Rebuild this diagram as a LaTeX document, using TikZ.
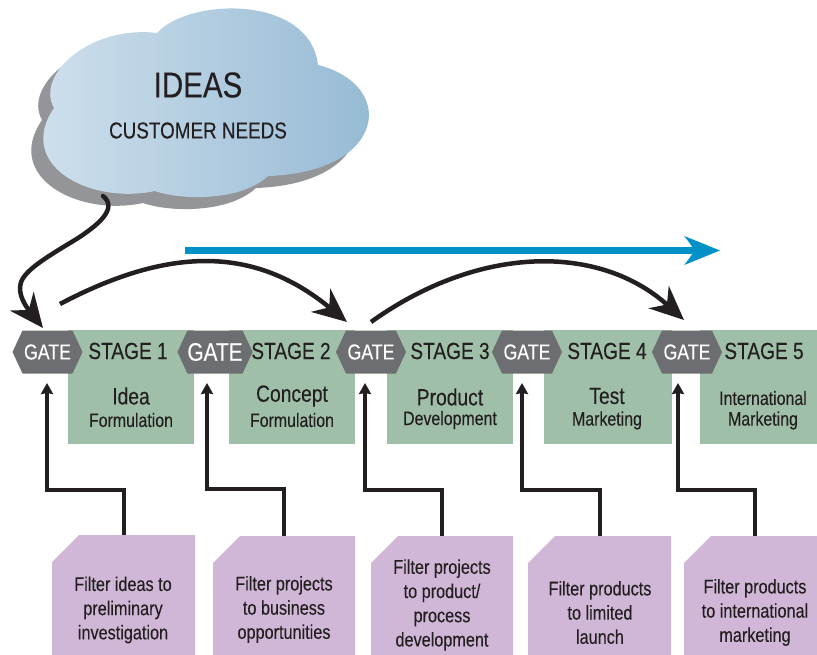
\documentclass[tikz,border=0pt]{standalone}
\usepackage{fontspec}
\setmainfont[FakeStretch=0.82,FakeBold=0.2]{Liberation Sans}
\usetikzlibrary{arrows.meta,shapes.symbols,calc}
\definecolor{ink}{HTML}{231F20}
\definecolor{gategray}{HTML}{6D6E71}
\definecolor{stagegreen}{HTML}{9FBFA9}
\definecolor{notepurple}{HTML}{D1B7D7}
\definecolor{arrowblue}{HTML}{0091C8}
\definecolor{cloudshadow}{HTML}{939598}
\definecolor{cloudL}{HTML}{D2E2EE}
\definecolor{cloudR}{HTML}{93B8D3}
\tikzset{
  gate/.style={signal,signal to=west and east,signal pointer angle=130,fill=gategray,text=white,
    minimum width=70pt,minimum height=43pt,inner sep=0pt,font=\fontsize{21.6}{24}\selectfont},
  stagebox/.style={fill=stagegreen,inner sep=0pt,minimum height=114pt,anchor=north west},
  stagelabel/.style={text=ink,inner sep=0pt,font=\fontsize{23.3}{24}\selectfont},
  bigword/.style={text=ink,inner sep=0pt,font=\fontsize{23.5}{24}\selectfont},
  smallword/.style={text=ink,inner sep=0pt,font=\fontsize{19.4}{24}\selectfont},
  notetext/.style={text=ink,inner sep=0pt,align=center,font=\fontsize{19.8}{24.2}\selectfont},
  filterarrow/.style={draw=ink,line width=4pt,-{Stealth[length=11pt,width=12pt,inset=1pt]}},
  flowarrow/.style={draw=ink,line width=4.5pt,-{Stealth[length=34pt,width=30pt,inset=11pt]}},
  notepoly/.style={fill=notepurple},
}
\newcommand{\notepath}[4]{\path[notepoly] (#1,#2+27) -- (#1+27,#2) -- (#3,#2) -- (#3,#4) -- (#1,#4) -- cycle;}
\begin{document}
\begin{tikzpicture}[x=1pt,y=-1pt]
\useasboundingbox (0,0) rectangle (817,655);
% cloud shadow
\def\cloudpath{(157,33) .. controls (190,-3) and (310,-5) .. (318,65)
  .. controls (397,85) and (387,172) .. (268,176)
  .. controls (240,202) and (180,200) .. (155,191)
  .. controls (90,205) and (15,165) .. (54,108)
  .. controls (35,75) and (90,25) .. (157,33) -- cycle}
\begin{scope}[shift={(-12,12)}]
\fill[cloudshadow] \cloudpath;
\end{scope}
\shade[left color=cloudL,right color=cloudR] \cloudpath;
\node[text=ink,inner sep=0pt,font=\fontsize{36}{40}\selectfont] (ideas) at (198,85) {IDEAS};
\node[text=ink,inner sep=0pt,font=\fontsize{23}{26}\selectfont] (needs) at (198,130.5) {CUSTOMER NEEDS};
\coordinate (cloudfoot) at (103,196);
% stage boxes
\node[stagebox,minimum width=126pt] (b1) at (68,330) {};
\node[stagebox,minimum width=126pt] (b2) at (229,330) {};
\node[stagebox,minimum width=126pt] (b3) at (387,330) {};
\node[stagebox,minimum width=128pt] (b4) at (544,330) {};
\node[stagebox,minimum width=117pt] (b5) at (700,330) {};
% gates
\node[gate] (g1) at (47.5,352) {GATE};
\node[gate,font=\fontsize{25.4}{28}\selectfont] (g2) at (215,352) {GATE};
\node[gate] (g3) at (371,352) {GATE};
\node[gate] (g4) at (527,352) {GATE};
\node[gate] (g5) at (687,352) {GATE};
% stage labels
\node[stagelabel] (s1) at (128,351) {STAGE 1};
\node[stagelabel] (s2) at (291,351) {STAGE 2};
\node[stagelabel] (s3) at (450,351) {STAGE 3};
\node[stagelabel] (s4) at (607,351) {STAGE 4};
\node[stagelabel] (s5) at (764,351) {STAGE 5};
% box texts
\node[bigword] (t1a) at (131,396) {Idea};
\node[smallword] (t1b) at (131,420) {Formulation};
\node[bigword] (t2a) at (292,396) {Concept};
\node[smallword] (t2b) at (292,420) {Formulation};
\node[bigword] (t3a) at (450,397) {Product};
\node[smallword] (t3b) at (450,420) {Development};
\node[bigword] (t4a) at (607,396) {Test};
\node[smallword] (t4b) at (607,420.5) {Marketing};
\node[smallword] (t5a) at (763,398) {International};
\node[smallword] (t5b) at (763,420.5) {Marketing};
% notes
\notepath{52}{535}{195}{655}
\notepath{213}{536}{355}{655}
\notepath{371}{536}{513}{655}
\notepath{528}{536}{671}{655}
\notepath{684}{536}{817}{655}
\node[notetext] (n1) at (123,610) {Filter ideas to\\preliminary\\investigation};
\node[notetext] (n2) at (284,609.5) {Filter projects\\to business\\opportunities};
\node[notetext] (n3) at (442,605) {Filter projects\\to product/\\process\\development};
\node[notetext] (n4) at (600,612.5) {Filter products\\to limited\\launch};
\node[notetext] (n5) at (755,612.5) {Filter products\\to international\\marketing};
\coordinate (f1) at (124,535);
\coordinate (f2) at (284,536);
\coordinate (f3) at (442,536);
\coordinate (f4) at (600,536);
\coordinate (f5) at (755,536);
\coordinate (u1) at (47,383);
\coordinate (u2) at (207,383);
\coordinate (u3) at (365,383);
\coordinate (u4) at (522,383);
\coordinate (u5) at (678,383);
% filter connectors
\draw[filterarrow] (f1) |- (47,490) -- (u1);
\draw[filterarrow] (f2) |- (207,489) -- (u2);
\draw[filterarrow] (f3) |- (365,490) -- (u3);
\draw[filterarrow] (f4) |- (522,490) -- (u4);
\draw[filterarrow] (f5) |- (678,490) -- (u5);
% flow arrows
\coordinate (a1s) at (60,304);
\coordinate (a1e) at (347,322);
\coordinate (a2s) at (371,322);
\coordinate (a2e) at (684,320);
\coordinate (c1t) at (43,328);
\draw[flowarrow,line cap=round] (cloudfoot) .. controls (118,208) and (100,225) .. (70,243)
  .. controls (35,264) and (20,275) .. (20,288) .. controls (20,296) and (24,304) .. (c1t);
\draw[flowarrow] (a1s) .. controls (170,246) and (255,246) .. (a1e);
\draw[flowarrow] (a2s) .. controls (480,244) and (600,244) .. (a2e);
% blue arrow
\coordinate (bs) at (185,250.5);
\coordinate (be) at (720,250.5);
\draw[arrowblue,line width=6.5pt,-{Stealth[length=35pt,width=28pt,inset=10pt]}] (bs) -- (be);
\end{tikzpicture}
\end{document}
